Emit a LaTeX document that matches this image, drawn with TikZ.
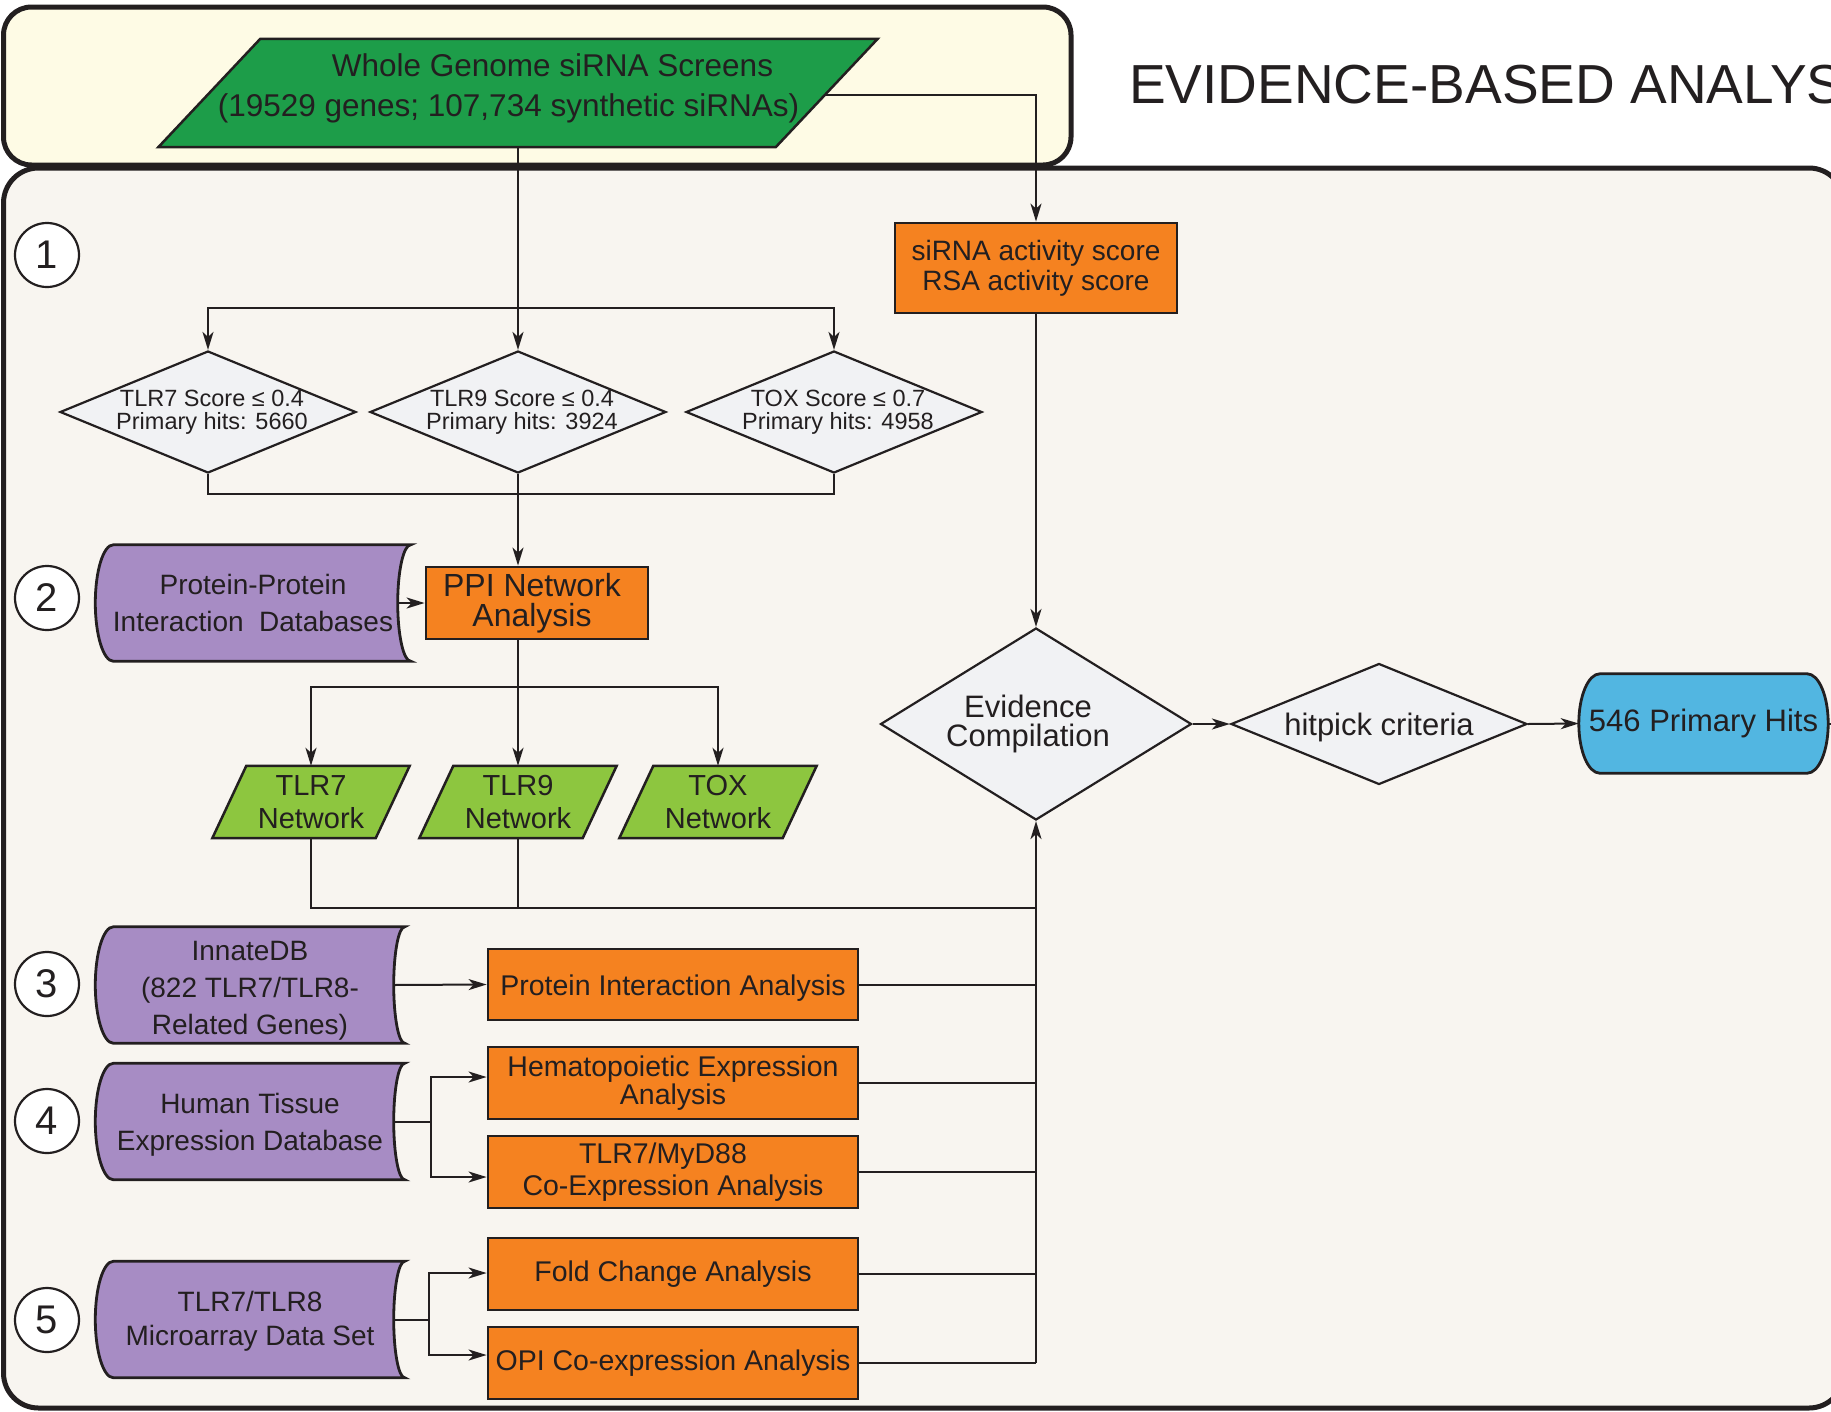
\documentclass[tikz,border=0pt]{standalone}
\usepackage{fontspec}
\setmainfont{Liberation Sans}
\usetikzlibrary{shapes.geometric,arrows.meta,calc}

\definecolor{ink}{RGB}{35,31,32}
\definecolor{cream}{RGB}{254,251,229}
\definecolor{panel}{RGB}{248,245,240}
\definecolor{orng}{RGB}{245,130,32}
\definecolor{purp}{RGB}{167,140,196}
\definecolor{dgreen}{RGB}{29,157,73}
\definecolor{lgreen}{RGB}{141,198,63}
\definecolor{skyb}{RGB}{82,182,225}
\definecolor{dfill}{RGB}{241,242,244}

\pgfdeclarelayer{frame}
\pgfdeclarelayer{shp}
\pgfsetlayers{frame,shp,main}

\newcommand{\fs}[2]{\fontsize{#1}{#2}\selectfont}

% stored-data shape: convex left bulge #3, concave right #4
\newcommand{\dbpath}[4]{%
\path[#2] let \p1=(#1.north west), \p2=(#1.south east), \n1={(\y1-\y2)/2}, \n2={(\y1+\y2)/2} in
 (\x1+#3pt,\y1) -- (\x2,\y1)
 .. controls (\x2-0.552*#4pt,\y1) and (\x2-#4pt,{(\n2+0.552*\n1)*1pt}) .. (\x2-#4pt,{\n2*1pt})
 .. controls (\x2-#4pt,{(\n2-0.552*\n1)*1pt}) and (\x2-0.552*#4pt,\y2) .. (\x2,\y2)
 -- (\x1+#3pt,\y2)
 .. controls (\x1+0.448*#3pt,\y2) and (\x1,{(\n2-0.552*\n1)*1pt}) .. (\x1,{\n2*1pt})
 .. controls (\x1,{(\n2+0.552*\n1)*1pt}) and (\x1+0.448*#3pt,\y1) .. cycle;}

% terminal shape: convex both ends, bulge #3
\newcommand{\termpath}[3]{%
\path[#2] let \p1=(#1.north west), \p2=(#1.south east), \n1={(\y1-\y2)/2}, \n2={(\y1+\y2)/2} in
 (\x1+#3pt,\y1) -- (\x2-#3pt,\y1)
 .. controls (\x2-0.448*#3pt,\y1) and (\x2,{(\n2+0.552*\n1)*1pt}) .. (\x2,{\n2*1pt})
 .. controls (\x2,{(\n2-0.552*\n1)*1pt}) and (\x2-0.448*#3pt,\y2) .. (\x2-#3pt,\y2)
 -- (\x1+#3pt,\y2)
 .. controls (\x1+0.448*#3pt,\y2) and (\x1,{(\n2-0.552*\n1)*1pt}) .. (\x1,{\n2*1pt})
 .. controls (\x1,{(\n2+0.552*\n1)*1pt}) and (\x1+0.448*#3pt,\y1) .. cycle;}

% parallelogram leaning right, horizontal offset #3
\newcommand{\parapath}[3]{%
\path[#2] let \p1=(#1.north west), \p2=(#1.south east) in
 (\x1+#3pt,\y1) -- (\x2,\y1) -- (\x2-#3pt,\y2) -- (\x1,\y2) -- cycle;}

\tikzset{
 every node/.style={text=ink},
 conn/.style={draw=ink, line width=2pt},
 arr/.style={conn, -{Stealth[length=18pt,width=11pt,inset=5pt]}},
 obox/.style={rectangle, draw=ink, line width=2.8pt, fill=orng, minimum width=370pt,
   minimum height=72pt, inner sep=0pt, align=center, font=\fs{28.5}{28}},
 dmd/.style={diamond, draw=ink, line width=2.2pt, fill=dfill, inner sep=0pt},
 stext/.style={align=center, inner sep=0pt, xshift=4pt, font=\fs{23.5}{22.5}},
 ltext/.style={align=center, inner sep=0pt, font=\fs{31}{29.5}},
 dbnode/.style={rectangle, inner sep=0pt, minimum width=309pt, minimum height=116pt,
   align=center, font=\fs{28}{37}},
 dbshape/.style={draw=ink, line width=2.8pt, fill=purp},
 netbox/.style={rectangle, minimum width=197pt, minimum height=72pt, inner sep=0pt,
   align=center, font=\fs{29}{33.5}},
 netshape/.style={draw=ink, line width=2.5pt, fill=lgreen},
 numc/.style={circle, draw=ink, line width=2.2pt, fill=white, minimum size=64pt,
   inner sep=0pt, font=\fs{40}{40}},
}

\begin{document}
\begin{tikzpicture}[x=1pt,y=-1pt]
\useasboundingbox (0,0) rectangle (1831,1411);

\begin{pgfonlayer}{frame}
\draw[line width=5pt, draw=ink, fill=panel, rounded corners=35pt] (3.5,168) rectangle (1844,1408);
\draw[line width=5pt, draw=ink, fill=cream, rounded corners=28pt] (3.5,7) rectangle (1071,165);
\end{pgfonlayer}

% title
\node[anchor=base west, font=\fs{55}{60}, inner sep=0pt] (title) at (1129,103) {EVIDENCE-BASED ANALYSIS};

% top input
\node[rectangle, minimum width=719pt, minimum height=108pt, inner sep=0pt,
  align=center, font=\fs{31.5}{40}] (ws) at (518,93)
  {\hspace*{69pt}Whole Genome siRNA Screens\\(19529 genes; 107,734 synthetic siRNAs)\hspace*{19pt}\rule[-16.6pt]{0pt}{1pt}};

% step numbers
\node[numc] (c1) at (47,255) {1};
\node[numc] (c2) at (47,598) {2};
\node[numc] (c3) at (47,984) {3};
\node[numc] (c4) at (47,1121) {4};
\node[numc] (c5) at (47,1320) {5};

% siRNA activity
\node[obox, minimum width=282pt, minimum height=90pt, font=\fs{28}{30}] (sirna) at (1036,268)
  {siRNA activity score\\RSA activity score};

% score diamonds
\node[dmd, minimum width=296pt, minimum height=122pt,
  label={[name=d7t, stext]center:TLR7 Score ≤ 0.4\\Primary hits: 5660}] (d7) at (208,412) {};
\node[dmd, minimum width=296pt, minimum height=122pt,
  label={[name=d9t, stext]center:TLR9 Score ≤ 0.4\\Primary hits: 3924}] (d9) at (518,412) {};
\node[dmd, minimum width=296pt, minimum height=122pt,
  label={[name=dtt, stext]center:TOX Score ≤ 0.7\\Primary hits: 4958}] (dtox) at (834,412) {};

% PPI
\node[obox, minimum width=222pt, minimum height=72pt, font=\fs{32}{29.5}] (ppi) at (537,603)
  {PPI Network\hspace*{10pt}\\Analysis\hspace*{10pt}};
\node[dbnode, minimum width=315pt] (ppidb) at (253,603) {Protein-Protein\\Interaction\ \ Databases};

% networks
\node[netbox] (n7) at (311,802) {TLR7\\Network};
\node[netbox] (n9) at (518,802) {TLR9\\Network};
\node[netbox] (ntox) at (718,802) {TOX\\Network};

% evidence / hitpick / hits
\node[dmd, minimum width=311pt, minimum height=192pt,
  label={[name=evt, ltext, xshift=-8pt]center:Evidence\\Compilation}] (ev) at (1036,724) {};
\node[dmd, minimum width=296pt, minimum height=121pt,
  label={[name=hpt, ltext, yshift=-3pt]center:hitpick criteria}] (hp) at (1379,724) {};
\node[rectangle, inner sep=0pt, minimum width=249pt, minimum height=99pt, font=\fs{31}{31}]
  (hits) at (1703.5,723.5) {546 Primary Hits};

% data sources
\node[dbnode] (innate) at (250,985) {\rule{0pt}{31pt}InnateDB\\(822 TLR7/TLR8-\\Related Genes)};
\node[dbnode] (human) at (250,1121.5) {\rule{0pt}{27pt}Human Tissue\\Expression Database};
\node[dbnode, font=\fs{28}{34}] (micro) at (250,1319.5) {\rule{0pt}{24pt}TLR7/TLR8\\Microarray Data Set};

% analyses
\node[obox, minimum height=71pt] (pia) at (673,984.5) {\rule{0pt}{27pt}Protein Interaction Analysis};
\node[obox] (hema) at (673,1083) {Hematopoietic Expression\\Analysis};
\node[obox, font=\fs{28.5}{32}] (tlrco) at (673,1172) {TLR7/MyD88\hspace*{20pt}\\Co-Expression Analysis};
\node[obox] (fold) at (673,1274) {Fold Change Analysis};
\node[obox] (opi) at (673,1363) {OPI Co-expression Analysis};

% custom shapes behind text
\begin{pgfonlayer}{shp}
\parapath{ws}{draw=ink, line width=2.5pt, fill=dgreen}{102}
\parapath{n7}{netshape}{34}
\parapath{n9}{netshape}{34}
\parapath{ntox}{netshape}{34}
\dbpath{ppidb}{dbshape}{18}{13}
\dbpath{innate}{dbshape}{18}{11}
\dbpath{human}{dbshape}{18}{11}
\dbpath{micro}{dbshape}{18}{11}
\termpath{hits}{draw=ink, line width=2.8pt, fill=skyb}{21}
\end{pgfonlayer}

% junction points
\coordinate (b1) at (518,308);
\coordinate (m1) at (518,494);
\coordinate (b2) at (518,687);
\coordinate (m2) at (1036,908);
\coordinate (tb) at (1036,1363);
\coordinate (hb) at (431,1121.5);
\coordinate (mb) at (429,1319.5);
\coordinate (stub) at (1845,723.5);

% connectors
\draw[arr] ($(ws.east)+(-53,2)$) -| (sirna.north);
\draw[arr] (ws.south) -- (d9.north);
\draw[arr] (b1) -| (d7.north);
\draw[arr] (b1) -| (dtox.north);
\draw[conn] (d7.south) |- (m1);
\draw[conn] (dtox.south) |- (m1);
\draw[arr] (d9.south) -- (d9.south |- ppi.north);
\draw[arr] ($(ppidb.east)+(-13,0)$) -- (ppi.west);
\draw[conn] (d9.south |- ppi.south) -- (b2);
\draw[arr] (b2) -| (n7.north);
\draw[arr] (b2) -- (n9.north);
\draw[arr] (b2) -| (ntox.north);
\draw[conn] (n7.south) |- (m2);
\draw[conn] (n9.south) |- (m2);
\draw[arr] (sirna.south) -- (ev.north);
\draw[arr] (tb) -- (ev.south);
\draw[arr] (ev.east) -- (hp.west);
\draw[arr] (hp.east) -- (hits.west);
\draw[conn] (hits.east) -- (stub);

\draw[arr] ($(innate.east)+(-11,0)$) -- (pia.west);
\draw[conn] ($(human.east)+(-11,0)$) -- (hb);
\draw[arr] (hb) |- ($(hema.west)+(0,-6)$);
\draw[arr] (hb) |- ($(tlrco.west)+(0,5)$);
\draw[conn] ($(micro.east)+(-11,0)$) -- (mb);
\draw[arr] (mb) |- ($(fold.west)+(0,-1)$);
\draw[arr] (mb) |- ($(opi.west)+(0,-8)$);

\draw[conn] (pia.east) -- (pia.east -| tb);
\draw[conn] (hema.east) -- (hema.east -| tb);
\draw[conn] (tlrco.east) -- (tlrco.east -| tb);
\draw[conn] (fold.east) -- (fold.east -| tb);
\draw[conn] (opi.east) -- (tb);
\end{tikzpicture}
\end{document}
